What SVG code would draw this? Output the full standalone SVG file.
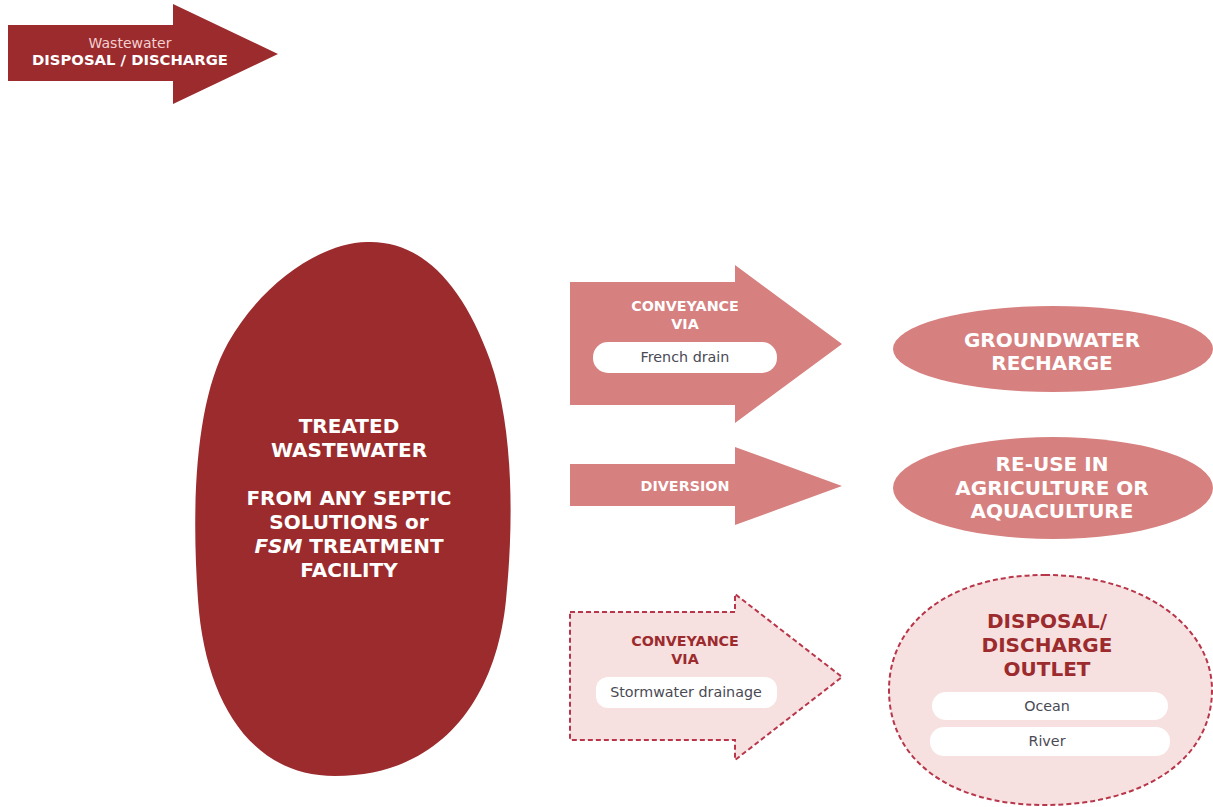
<svg xmlns="http://www.w3.org/2000/svg" width="1213" height="807" viewBox="0 0 1213 807">
<style>
.t{font-family:"DejaVu Sans","Liberation Sans",sans-serif;text-anchor:middle}
.b{font-weight:bold}
.w{fill:#ffffff}
.dk{fill:#9c2b2e}
.mid{fill:#d6807f}
.lt{fill:#f7e0e0;stroke:#b8364a;stroke-width:2;stroke-dasharray:5 3}
.pill{fill:#ffffff}
.g{fill:#4a4a55;font-size:14.3px}
.big{font-size:20px}
.sm{font-size:14.3px}
</style>
<rect width="1213" height="807" fill="#ffffff"/>
<g id="legend">
<polygon class="dk" points="8,25 173,25 173,4 278,54 173,104 173,81 8,81"/>
<text class="t" x="130" y="48" font-size="14" fill="#f3d0cf">Wastewater</text>
<text class="t b w" x="130" y="65" font-size="14.8">DISPOSAL / DISCHARGE</text>
</g>
<g id="source">
<path class="dk" d="M367,242 C420,240 462,282 490,360 C515,430 513,530 506,600 C496,700 440,776 335,776 C250,776 205,700 198,600 C191,500 196,400 228,343 C262,283 320,243 367,242 Z"/>
<g class="t b w big">
<text x="349" y="433">TREATED</text>
<text x="349" y="457">WASTEWATER</text>
<text x="349" y="505">FROM ANY SEPTIC</text>
<text x="349" y="529">SOLUTIONS or</text>
<text x="349" y="553"><tspan font-style="italic">FSM</tspan> TREATMENT</text>
<text x="349" y="577">FACILITY</text>
</g>
</g>
<g id="connectors">
<g id="conv-french">
<polygon class="mid" points="570,282 735,282 735,265 842,344 735,423 735,405 570,405"/>
<text class="t b w sm" x="685" y="311">CONVEYANCE</text>
<text class="t b w sm" x="685" y="329">VIA</text>
<rect class="pill" x="593" y="342" width="184" height="31" rx="15"/>
<text class="t g" x="685" y="362">French drain</text>
</g>
<g id="diversion">
<polygon class="mid" points="570,464 735,464 735,447 842,486 735,525 735,506 570,506"/>
<text class="t b w sm" x="685" y="491">DIVERSION</text>
</g>
<g id="conv-storm">
<polygon class="lt" points="570,612 735,612 735,594 842,677 735,760 735,740 570,740"/>
<text class="t b sm" x="685" y="646" fill="#9c2b2e">CONVEYANCE</text>
<text class="t b sm" x="685" y="664" fill="#9c2b2e">VIA</text>
<rect class="pill" x="596" y="677" width="181" height="31" rx="12"/>
<text class="t g" x="686" y="697">Stormwater drainage</text>
</g>
</g>
<g id="groundwater">
<ellipse class="mid" cx="1053" cy="349" rx="160" ry="43"/>
<text class="t b w big" x="1052" y="347">GROUNDWATER</text>
<text class="t b w big" x="1052" y="370">RECHARGE</text>
</g>
<g id="reuse">
<ellipse class="mid" cx="1053" cy="488" rx="160" ry="51"/>
<text class="t b w big" x="1052" y="471">RE-USE IN</text>
<text class="t b w big" x="1052" y="495">AGRICULTURE OR</text>
<text class="t b w big" x="1052" y="518">AQUACULTURE</text>
</g>
<g id="outlet">
<path class="lt" d="M1045,575 C1145,575 1212,628 1212,690 C1212,762 1140,805 1045,805 C950,805 889,760 889,690 C889,622 950,575 1045,575 Z"/>
<g class="t b big" fill="#9c2b2e">
<text x="1047" y="628">DISPOSAL/</text>
<text x="1047" y="652">DISCHARGE</text>
<text x="1047" y="676">OUTLET</text>
</g>
<rect class="pill" x="932" y="692" width="236" height="28" rx="14"/>
<text class="t g" x="1047" y="711">Ocean</text>
<rect class="pill" x="930" y="727" width="240" height="29" rx="14"/>
<text class="t g" x="1047" y="746">River</text>
</g>
</svg>
